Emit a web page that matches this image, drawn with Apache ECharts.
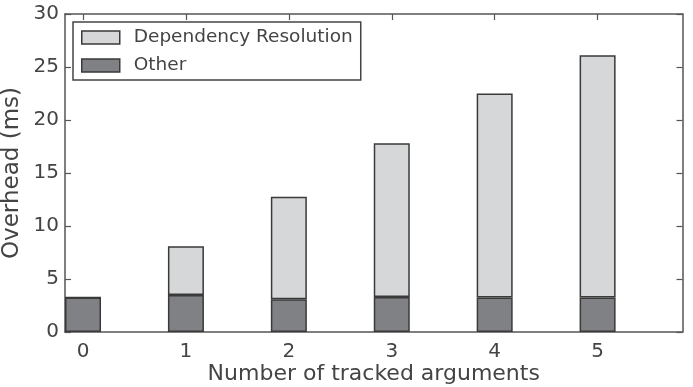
<!DOCTYPE html>
<html>
<head>
<meta charset="utf-8">
<script src="https://cdn.jsdelivr.net/npm/echarts@6/dist/echarts.min.js"></script>
<style>
  html, body { margin: 0; padding: 0; background: #fff; }
  #chart { width: 693px; height: 387px; }
</style>
</head>
<body>
<div id="chart"></div>
<script>
// tracked argument counts (x positions)
const argCounts = [0, 1, 2, 3, 4, 5];
// ms
const otherMs = [3.25, 3.5, 3.1, 3.3, 3.25, 3.25];
const depResMs = [0, 4.6, 9.65, 14.5, 19.25, 22.85];
const yTicks = [0, 5, 10, 15, 20, 25, 30];

const font = "DejaVu Sans";
const axisColor = "#555";
const textColor = "#444";
const edge = "#3a3a3a";
const lightFill = "#d5d7d9";
const darkFill = "#808184";

const chart = echarts.init(document.getElementById("chart"));

const xBase = {
  type: "value",
  min: -0.175,
  max: 5.825,
  axisLine: { show: true, onZero: false, lineStyle: { color: axisColor, width: 1.5 } },
  axisTick: { inside: true, length: 6, customValues: argCounts, lineStyle: { color: axisColor, width: 1.2 } },
  splitLine: { show: false },
};
const yBase = {
  type: "value",
  min: yTicks[0],
  max: yTicks[yTicks.length - 1],
  interval: 5,
  axisLine: { show: true, onZero: false, lineStyle: { color: axisColor, width: 1.5 } },
  axisTick: { show: true, inside: true, length: 6, lineStyle: { color: axisColor, width: 1.2 } },
  splitLine: { show: false },
};

// value first, x second: keeps the stack on y
const toPairs = (vals) => argCounts.map((x, i) => [vals[i], x]);

let option = {
  animation: false,
  textStyle: { fontFamily: font },
  grid: { left: 65, right: 10.5, top: 14, bottom: 55, containLabel: false, outerBoundsMode: "none" },
  legend: {
    orient: "vertical",
    left: 73,
    top: 22,
    padding: [6, 8, 5, 8],
    itemWidth: 38,
    itemHeight: 13,
    itemGap: 9,
    borderColor: "#444",
    borderWidth: 1.5,
    borderRadius: 0,
    backgroundColor: "#fff",
    textStyle: { fontFamily: font, fontSize: 18.5, color: textColor, lineHeight: 18, padding: [0, 0, 0, 9] },
    data: [
      { name: "Dependency Resolution", icon: "rect", itemStyle: { color: lightFill, borderColor: edge, borderWidth: 1.5 } },
      { name: "Other", icon: "rect", itemStyle: { color: darkFill, borderColor: edge, borderWidth: 1.5 } },
    ],
  },
  xAxis: [
    Object.assign({}, xBase, {
      position: "bottom",
      name: "Number of tracked arguments",
      nameLocation: "middle",
      nameGap: 31,
      nameMoveOverlap: false,
      nameTextStyle: { fontFamily: font, fontSize: 22, color: textColor },
      axisLabel: { customValues: argCounts, margin: 10, fontFamily: font, fontSize: 20, color: textColor },
    }),
    Object.assign({}, xBase, { position: "top", axisLabel: { show: false } }),
  ],
  yAxis: [
    Object.assign({}, yBase, {
      position: "left",
      name: "Overhead (ms)",
      nameLocation: "middle",
      nameGap: 41,
      nameMoveOverlap: false,
      nameTextStyle: { fontFamily: font, fontSize: 23, color: textColor },
      axisLabel: { margin: 6, fontFamily: font, fontSize: 20, color: textColor },
    }),
    Object.assign({}, yBase, { position: "right", axisLabel: { show: false } }),
  ],
  series: [
    {
      name: "Other",
      type: "bar",
      stack: "total",
      barWidth: 36,
      encode: { x: 1, y: 0 },
      data: toPairs(otherMs),
      itemStyle: { color: darkFill, borderColor: edge, borderWidth: 1.5 },
    },
    {
      name: "Dependency Resolution",
      type: "bar",
      stack: "total",
      barWidth: 36,
      encode: { x: 1, y: 0 },
      data: toPairs(depResMs),
      itemStyle: { color: lightFill, borderColor: edge, borderWidth: 1.5 },
    },
  ],
};

chart.setOption(option);
</script>
</body>
</html>
